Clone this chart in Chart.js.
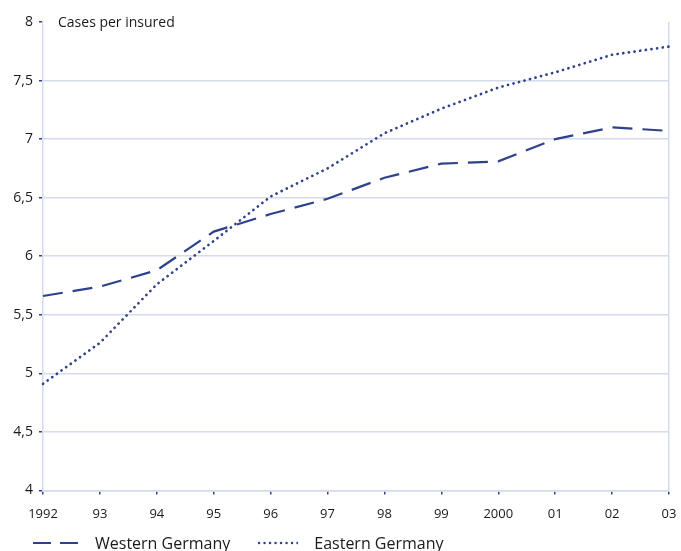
<!DOCTYPE html>
<html>
<head>
<meta charset="utf-8">
<script src="https://cdn.jsdelivr.net/npm/chart.js@4/dist/chart.umd.min.js"></script>
<style>
  html, body { margin: 0; padding: 0; background: #fff; }
  #wrap { position: relative; width: 681px; height: 551px; font-family: 'Open Sans', sans-serif; color: #1a1a1a; }
  #wrap canvas { position: absolute; left: 0; top: 0; }
  .unit { position: absolute; left: 58px; top: 12px; font-size: 14px; }
  .legend { position: absolute; left: 33px; top: 532px; font-size: 16px; display: flex; align-items: center; }
  .legend svg { margin-right: 16px; }
  .legend span { margin-right: 28px; }
</style>
</head>
<body>
<div id="wrap">
  <canvas id="chart" width="681" height="551"></canvas>
  <div class="unit">Cases per insured</div>
  <div class="legend">
    <svg width="46" height="4"><line x1="0" y1="2" x2="46" y2="2" stroke="#2f418b" stroke-width="2.2" stroke-dasharray="18 9"/></svg><span>Western Germany</span>
    <svg width="40" height="4"><line x1="1" y1="2" x2="40" y2="2" stroke="#2f418b" stroke-width="2.4" stroke-linecap="round" stroke-dasharray="0.1 5.4"/></svg><span>Eastern Germany</span>
  </div>
</div>
<script>
// ── data ────────────────────────────────────────────────────────────────
const years   = ['1992', '93', '94', '95', '96', '97', '98', '99', '2000', '01', '02', '03'];
const western = [5.66, 5.74, 5.88, 6.21, 6.36, 6.49, 6.67, 6.79, 6.81, 7.00, 7.10, 7.07];
const eastern = [4.91, 5.26, 5.76, 6.13, 6.51, 6.75, 7.05, 7.26, 7.44, 7.57, 7.72, 7.79];

const INK = '#2f418b', GRID = '#d6daee', TXT = '#1a1a1a';
Chart.defaults.font.family = "'Open Sans', sans-serif";
Chart.defaults.font.size = 13;
Chart.defaults.color = TXT;

new Chart(document.getElementById('chart'), {
    type: 'line',
    data: {
        labels: years,
        datasets: [
            { label: 'Western Germany', data: western, borderColor: INK, borderWidth: 2.2, borderDash: [20, 10], pointRadius: 0, tension: 0, fill: false },
            { label: 'Eastern Germany', data: eastern, borderColor: INK, borderWidth: 2.7, borderDash: [0.1, 5.6], borderCapStyle: 'round', pointRadius: 0, tension: 0, fill: false },
        ]
    },
    options: {
        responsive: false, animation: false,
        layout: { padding: { top: 22, right: 12, bottom: 17, left: 0 } },
        plugins: { legend: { display: false }, tooltip: { enabled: false } },
        scales: {
            x: {
                offset: false,
                afterFit: s => { s.paddingRight = 0; s.paddingLeft = 0; },
                grid: {
                    color: c => c.index === years.length - 1 ? GRID : 'rgba(0,0,0,0)',
                    tickColor: INK, tickLength: 4, lineWidth: 1.5
                },
                border: { color: GRID, width: 1.5 },
                ticks: { padding: 12, maxRotation: 0, autoSkip: false, font: { size: 13 } }
            },
            y: {
                min: 4, max: 8,
                afterFit: s => { s.width = 43; },
                grid: {
                    color: c => c.tick && c.tick.value === 8 ? 'rgba(0,0,0,0)' : GRID,
                    tickColor: INK, tickLength: 4, lineWidth: 1.5
                },
                border: { color: GRID, width: 1.5 },
                ticks: { stepSize: 0.5, padding: 6, font: { size: 14 }, callback: v => String(v).replace('.', ',') }
            }
        }
    }
});
</script>
</body>
</html>
